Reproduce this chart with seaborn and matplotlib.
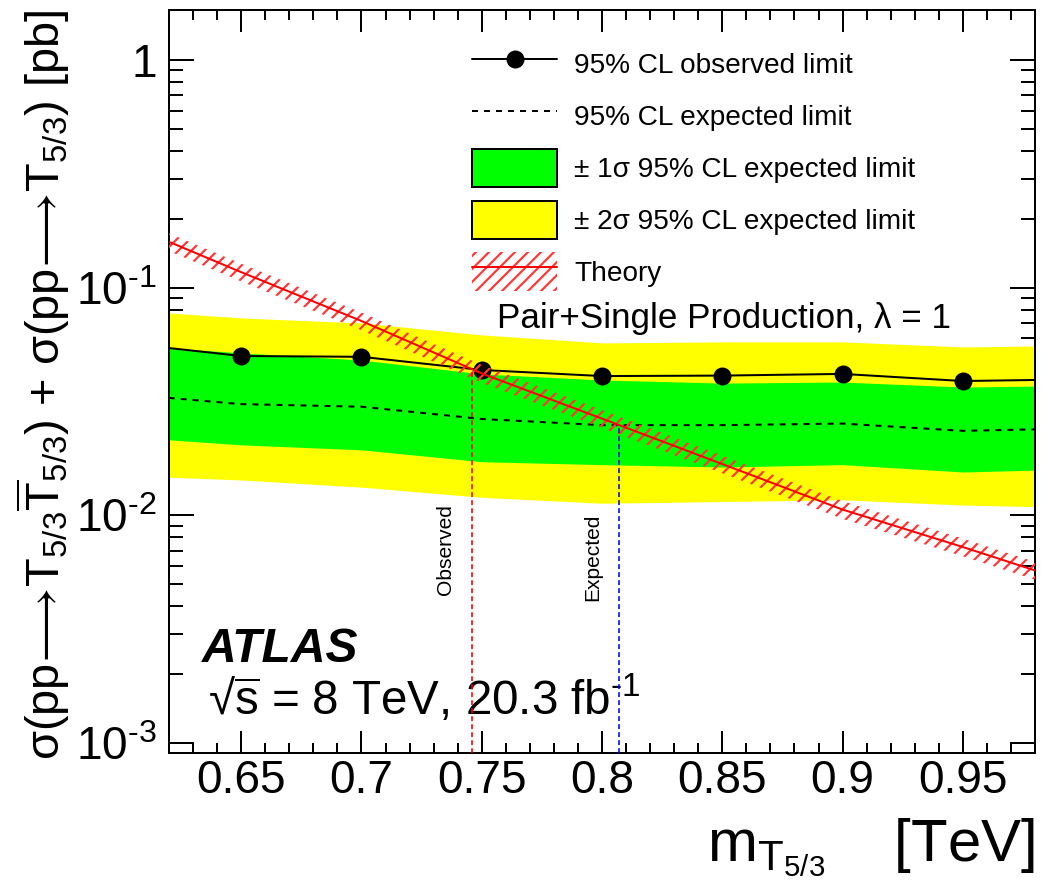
import numpy as np
import pandas as pd
import matplotlib
matplotlib.use("Agg")
import matplotlib.pyplot as plt
import seaborn as sns
from matplotlib.patches import Patch
from matplotlib.lines import Line2D
from matplotlib.ticker import (MultipleLocator, FixedLocator, FixedFormatter,
                               LogLocator, NullFormatter, FuncFormatter)

# ---------------- data ----------------
mass = [0.60, 0.65, 0.70, 0.75, 0.80, 0.85, 0.90, 0.95, 1.00]
observed = [0.0573, 0.0501, 0.0497, 0.0435, 0.0409, 0.0411, 0.0418, 0.0389, 0.0396]
expected = [0.0342, 0.0308, 0.0300, 0.0265, 0.0249, 0.0249, 0.0253, 0.0235, 0.0241]
sig1_lo = [0.0222, 0.0204, 0.0194, 0.0172, 0.0167, 0.0163, 0.0167, 0.0155, 0.0160]
sig1_hi = [0.0562, 0.0517, 0.0481, 0.0418, 0.0393, 0.0381, 0.0385, 0.0366, 0.0372]
sig2_lo = [0.0150, 0.0143, 0.0133, 0.0120, 0.0113, 0.0115, 0.0117, 0.0111, 0.0108]
sig2_hi = [0.0801, 0.0736, 0.0700, 0.0620, 0.0572, 0.0578, 0.0578, 0.0549, 0.0558]
theory = [0.195, 0.117, 0.0714, 0.0420, 0.0266, 0.0168, 0.0106, 0.00726, 0.00489]
theory_hi = [0.2126, 0.1275, 0.0778, 0.0458, 0.0290, 0.0183, 0.01155, 0.00791, 0.00533]
theory_lo = [0.1775, 0.1065, 0.0650, 0.0382, 0.0242, 0.0153, 0.00965, 0.00661, 0.00445]

obs_limit_mass, obs_limit_xsec = 0.746, 0.0437
exp_limit_mass, exp_limit_xsec = 0.807, 0.0249

ytick_vals = [1e-3, 1e-2, 1e-1, 1.0]
ytick_labels = [r"$10^{\text{-}3}$", r"$10^{\text{-}2}$", r"$10^{\text{-}1}$", "1"]

legend_labels = ["95% CL observed limit", "95% CL expected limit",
                 "\u00b1 1\u03c3 95% CL expected limit",
                 "\u00b1 2\u03c3 95% CL expected limit", "Theory"]

# ---------------- styling ----------------
DPI = 78
def P(px):
    return px * 72.0 / DPI

sns.set_theme(style="ticks")
plt.rcParams["font.family"] = ["Liberation Sans", "DejaVu Sans"]
plt.rcParams.update({
    "mathtext.fontset": "custom",
    "mathtext.rm": "Liberation Sans",
    "mathtext.it": "Liberation Sans:italic",
    "mathtext.bf": "Liberation Sans:bold",
    "mathtext.sf": "Liberation Sans",
    "mathtext.default": "regular",
    "mathtext.fallback": "stixsans",
    "hatch.linewidth": P(2.2),
    "axes.unicode_minus": False,
    "text.color": "black",
    "axes.labelcolor": "black",
    "xtick.color": "black",
    "ytick.color": "black",
    "axes.edgecolor": "black",
})

W, H = 1045, 894
fig = plt.figure(figsize=(W / DPI, H / DPI), dpi=DPI)
fig.patch.set_facecolor("white")
ax = fig.add_axes([169 / W, 1 - 753 / H, 866 / W, 743 / H])
ax.set_facecolor("white")

df = pd.DataFrame({"mass": mass, "observed": observed, "expected": expected,
                   "theory": theory})

YELLOW, GREEN, RED, HATCH = "#ffff00", "#00ff00", "#ff0000", "#ff3838"

ax.fill_between(mass, sig2_lo, sig2_hi, color=YELLOW, lw=0, zorder=1)
ax.fill_between(mass, sig1_lo, sig1_hi, color=GREEN, lw=0, zorder=2)

sns.lineplot(data=df, x="mass", y="expected", ax=ax, color="black",
             lw=P(2), linestyle=(0, (3, 3)), zorder=3)
sns.lineplot(data=df, x="mass", y="observed", ax=ax, color="black",
             lw=P(2), marker="o", markersize=P(18), markeredgewidth=0, zorder=4)

ax.fill_between(mass, theory_lo, theory_hi, facecolor="none",
                edgecolor=HATCH, hatch="//", lw=0, zorder=5)
sns.lineplot(data=df, x="mass", y="theory", ax=ax, color=RED, lw=P(2), zorder=6)

ax.set_yscale("log")
ax.set_xlim(0.62, 0.98)
ax.set_ylim(0.000904, 1.658)
ymin = ax.get_ylim()[0]

ax.vlines(obs_limit_mass, ymin, obs_limit_xsec, colors=RED, lw=P(1.6),
          linestyles=(0, (3, 2)), zorder=7)
ax.vlines(exp_limit_mass, ymin, exp_limit_xsec, colors="#0000ff", lw=P(1.6),
          linestyles=(0, (3, 2)), zorder=7)

ax.text(obs_limit_mass - 0.011, 0.00705, "Observed", rotation=90,
        ha="center", va="center", fontsize=P(21))
ax.text(exp_limit_mass - 0.011, 0.00656, "Expected", rotation=90,
        ha="center", va="center", fontsize=P(21))

# ticks
ax.xaxis.set_major_locator(MultipleLocator(0.05))
ax.xaxis.set_minor_locator(MultipleLocator(0.01))
ax.xaxis.set_major_formatter(FuncFormatter(lambda v, p: "%g" % round(v, 3)))
ax.yaxis.set_major_locator(FixedLocator(ytick_vals))
ax.yaxis.set_major_formatter(FixedFormatter(ytick_labels))
ax.yaxis.set_minor_locator(LogLocator(base=10, subs=np.arange(2, 10)))
ax.yaxis.set_minor_formatter(NullFormatter())

ax.tick_params(axis="both", which="both", direction="in", top=True, right=True,
               width=P(2), labelsize=P(46), colors="black")
ax.tick_params(axis="x", which="major", length=P(22), pad=P(6))
ax.tick_params(axis="x", which="minor", length=P(10))
ax.tick_params(axis="y", which="major", length=P(25), pad=P(12))
ax.tick_params(axis="y", which="minor", length=P(14))
for s in ax.spines.values():
    s.set_visible(True)
    s.set_linewidth(P(2))
    s.set_color("black")
ax.grid(False)

ax.set_xlabel(r"$m_{T_{5/3}}$" + "    [TeV]", fontsize=P(60), loc="right")
ax.xaxis.set_label_coords(1.0, -0.086)
ax.set_ylabel(r"$\sigma(pp\!\longrightarrow\!T_{5/3}\overline{T}_{5/3})$ + "
              r"$\sigma(pp\!\longrightarrow\!T_{5/3})$ [pb]",
              fontsize=P(47), loc="top")
ax.yaxis.set_label_coords(-0.112, 1.0)

# legend
handles = [
    Line2D([], [], color="black", lw=P(2), marker="o", markersize=P(18),
           markeredgewidth=0),
    Line2D([], [], color="black", lw=P(2), linestyle=(0, (3, 3))),
    Patch(facecolor=GREEN, edgecolor="black", lw=P(2)),
    Patch(facecolor=YELLOW, edgecolor="black", lw=P(2)),
    (Patch(facecolor="none", edgecolor=HATCH, hatch="//", lw=0),
     Line2D([], [], color=RED, lw=P(2))),
]
ax.legend(handles, legend_labels, loc="upper left",
          bbox_to_anchor=(472 / W, 1 - 45 / H), bbox_transform=fig.transFigure,
          frameon=False, fontsize=P(28), handlelength=85 / 28,
          handleheight=1.75, labelspacing=0.47, handletextpad=17 / 28,
          borderpad=0, borderaxespad=0)

ax.text(0.379, 0.572, "Pair+Single Production, \u03bb = 1",
        transform=ax.transAxes, fontsize=P(35), va="baseline")
ax.text(0.038, 0.1225, "ATLAS", transform=ax.transAxes, fontsize=P(48),
        fontweight="bold", fontstyle="italic", va="baseline")
ax.text(0.045, 0.051, "\u221a" + r"$\overline{s}$ = 8 TeV, 20.3 fb$^{\text{-}1}$",
        transform=ax.transAxes, fontsize=P(47.5), va="baseline")

fig.savefig("out.png", dpi=DPI, facecolor="white")
